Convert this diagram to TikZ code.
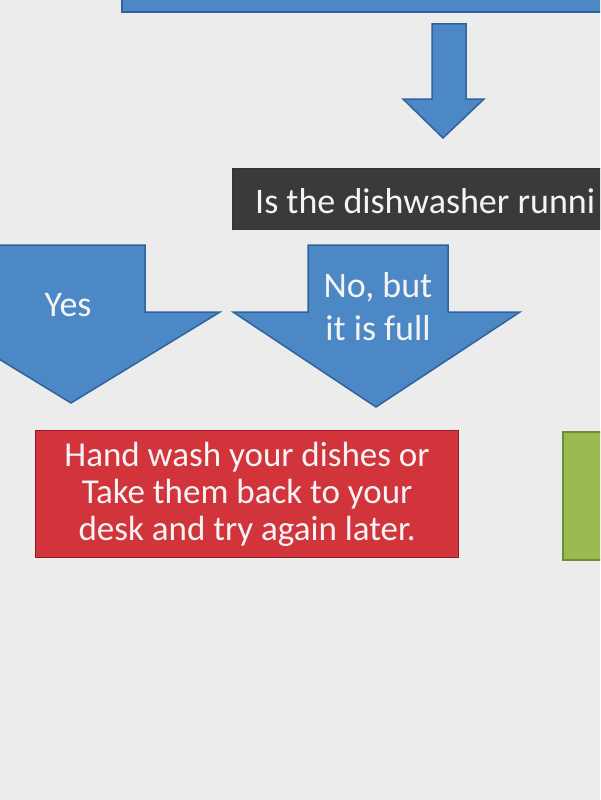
\documentclass[tikz,border=0pt]{standalone}
\usepackage{fontspec}
\setmainfont{Carlito}
\definecolor{paper}{RGB}{236,236,236}
\definecolor{arrowblue}{RGB}{76,136,198}
\definecolor{arrowedge}{RGB}{48,98,158}
\definecolor{darkbox}{RGB}{58,58,58}
\definecolor{redbox}{RGB}{210,52,60}
\definecolor{rededge}{RGB}{140,28,32}
\definecolor{greenbox}{RGB}{155,187,80}
\definecolor{greenedge}{RGB}{110,140,60}
\definecolor{txt}{RGB}{244,244,244}
\begin{document}
\begin{tikzpicture}[x=1pt,y=-1pt,
  blockarrow/.style={fill=arrowblue,draw=arrowedge,line width=1.5pt,line join=miter},
  lbl/.style={text=txt,font=\fontsize{36}{43}\selectfont,align=center,inner sep=0pt}]
\useasboundingbox (0,0) rectangle (600,800);
\clip (0,0) rectangle (600,800);
\fill[paper] (0,0) rectangle (600,800);
% top box (cut off)
\draw[blockarrow] (122,-20) rectangle (620,12);
% down arrow
\draw[blockarrow] (432,24) -- (466,24) -- (466,99) -- (484,99) -- (443,138) -- (403,99) -- (432,99) -- cycle;
% question box
\draw[fill=darkbox,draw=black!80,line width=1pt] (232,168) rectangle (620,229);
\node[lbl,anchor=base west] (question) at (255,213) {Is the dishwasher runni};
% Yes arrow
\draw[blockarrow] (-3,245) -- (145,245) -- (145,312) -- (220,312) -- (71,403) -- (-78,312) -- (-3,312) -- cycle;
\node[lbl,anchor=base] (yes) at (68,316) {Yes};
% No arrow
\draw[blockarrow] (308,245) -- (448,245) -- (448,312) -- (520,312) -- (376,407) -- (233,312) -- (308,312) -- cycle;
\node[lbl,anchor=center] (nobut) at (378,307) {No, but\\it is full};
% red box
\node[draw=rededge,fill=redbox,line width=1.2pt,minimum width=423pt,minimum height=127pt,
      inner sep=0pt,text=txt,font=\fontsize{35}{37}\selectfont,align=center,anchor=north west] (handwash) at (35,430)
  {Hand wash your dishes or\\Take them back to your\\desk and try again later.};
% green box (cut off)
\draw[fill=greenbox,draw=greenedge,line width=1.2pt] (563,432) rectangle (620,560);
\end{tikzpicture}
\end{document}
